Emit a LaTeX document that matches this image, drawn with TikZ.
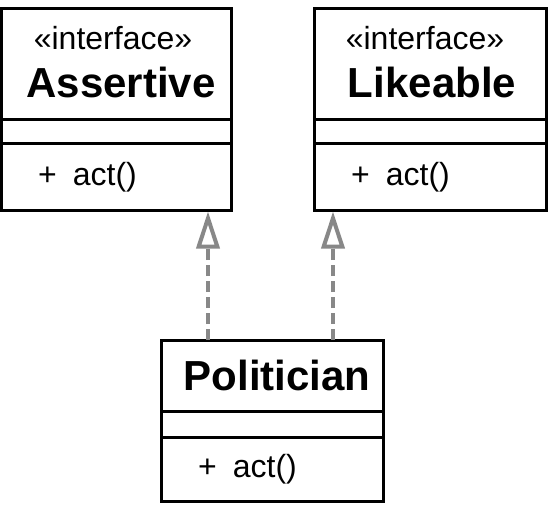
\documentclass[tikz,border=0pt]{standalone}
\usepackage{fontspec}
\setmainfont{Liberation Sans}
\usetikzlibrary{arrows.meta}

\definecolor{realgray}{RGB}{136,136,136}

\tikzset{
  compartment/.style={draw, line width=3pt, inner sep=0pt},
  stereo/.style={anchor=base, inner sep=0pt, font=\fontsize{32}{32}\selectfont},
  classname/.style={anchor=base, inner sep=0pt, font=\fontsize{42}{42}\selectfont\bfseries},
  operation/.style={anchor=base west, inner sep=0pt, font=\fontsize{32}{32}\selectfont},
  realize/.style={realgray, line width=4.5pt, dash pattern=on 11pt off 5pt,
    -{Triangle[open, length=37pt, width=23pt, line width=4pt]}},
}

\begin{document}
\begin{tikzpicture}[x=1pt,y=-1pt]
    \useasboundingbox (0,0) rectangle (554,504);

    % Assertive
    \node[compartment, minimum width=230pt, minimum height=111pt]  (AstHead) at (116.5,63.5) {};
    \node[compartment, minimum width=230pt, minimum height=24.5pt] (AstAttr) at (116.5,131.25) {};
    \node[compartment, minimum width=230pt, minimum height=66.5pt] (AstOps)  at (116.5,176.75) {};
    \node[stereo]    (AstStereo) at (113,49) {«interface»};
    \node[classname] (AstName)   at (121,97) {Assertive};
    \node[operation] (AstAct)    at (38,185) {+\hspace{16pt}act()};

    % Likeable
    \node[compartment, minimum width=232pt, minimum height=111pt]  (LikHead) at (430,63.5) {};
    \node[compartment, minimum width=232pt, minimum height=24.5pt] (LikAttr) at (430,131.25) {};
    \node[compartment, minimum width=232pt, minimum height=66.5pt] (LikOps)  at (430,176.75) {};
    \node[stereo]    (LikStereo) at (425,49) {«interface»};
    \node[classname] (LikName)   at (432,97) {Likeable};
    \node[operation] (LikAct)    at (351,185) {+\hspace{16pt}act()};

    % Politician
    \node[compartment, minimum width=222pt, minimum height=71pt] (PolHead) at (272.5,375.5) {};
    \node[compartment, minimum width=222pt, minimum height=26pt] (PolAttr) at (272.5,424) {};
    \node[compartment, minimum width=222pt, minimum height=64pt] (PolOps)  at (272.5,469) {};
    \node[classname] (PolName) at (277,390) {Politician};
    \node[operation] (PolAct)  at (198,477) {+\hspace{16pt}act()};

    \coordinate (toAst) at (208,340);
    \coordinate (toLik) at (333,340);

    \draw[realize] (toAst) -- (toAst |- AstOps.south);
    \draw[realize] (toLik) -- (toLik |- LikOps.south);
\end{tikzpicture}
\end{document}
